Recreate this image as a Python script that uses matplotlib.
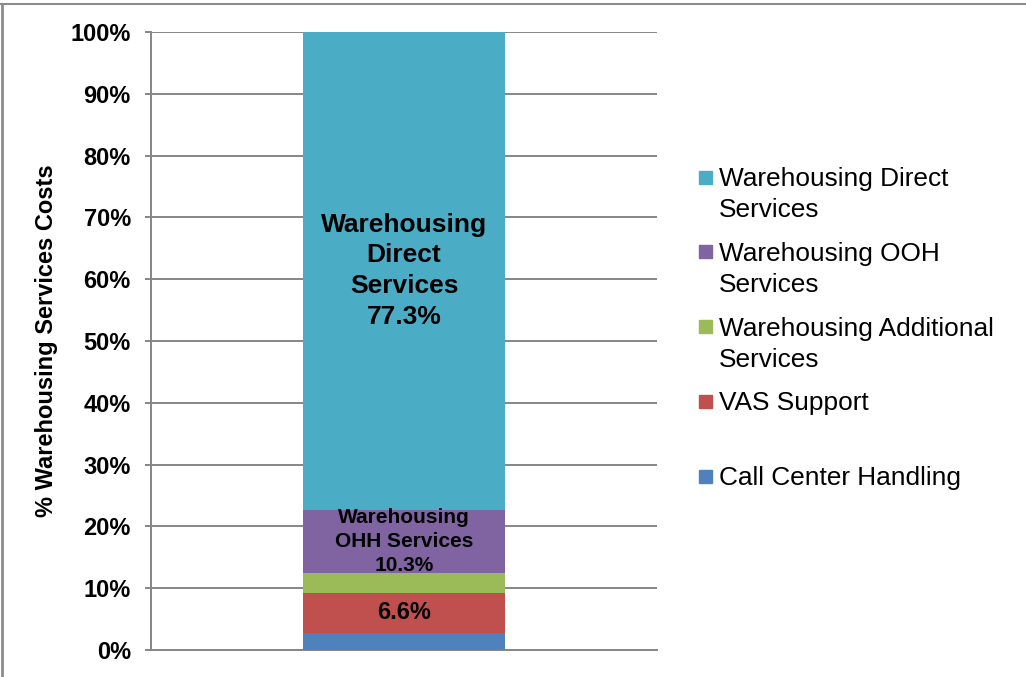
import matplotlib
matplotlib.use("Agg")
import matplotlib.pyplot as plt
from matplotlib.patches import Rectangle
from matplotlib.lines import Line2D
from matplotlib.ticker import FuncFormatter

plt.rcParams['font.family'] = ['Liberation Sans', 'DejaVu Sans']

# ---- data (bottom to top) ----
series = ["Call Center Handling", "VAS Support", "Warehousing Additional Services",
          "Warehousing OOH Services", "Warehousing Direct Services"]
legend_labels = ["Call Center Handling", "VAS Support", "Warehousing Additional\nServices",
                 "Warehousing OOH\nServices", "Warehousing Direct\nServices"]
values = [2.7, 6.6, 3.1, 10.3, 77.3]
colors = ["#4F81BD", "#C0504D", "#9BBB59", "#8064A2", "#4BACC6"]
seg_labels = ["", "6.6%", "", "Warehousing\nOHH Services\n10.3%", "Warehousing\nDirect\nServices\n77.3%"]
seg_label_sizes = [0, 17, 0, 15, 19]
seg_label_spacing = [1.0, 1.0, 1.0, 1.32, 1.36]
yticks = [0, 10, 20, 30, 40, 50, 60, 70, 80, 90, 100]

W, H = 1026, 677
fig = plt.figure(figsize=(W / 100, H / 100), dpi=100)
ax = fig.add_axes([151 / W, 1 - 650 / H, 506 / W, 618 / H])

grid_c = "#868686"
bottom = 0
for v, c, lab, fs, ls in zip(values, colors, seg_labels, seg_label_sizes, seg_label_spacing):
    ax.bar(0, v, width=0.4, bottom=bottom, color=c, zorder=3)
    if lab:
        ax.text(0, bottom + v / 2, lab, ha='center', va='center', fontsize=fs,
                fontweight='bold', color='black', zorder=4, linespacing=ls)
    bottom += v

ax.set_xlim(-0.5, 0.5)
ax.set_ylim(0, 100)
ax.set_yticks(yticks)
ax.yaxis.set_major_formatter(FuncFormatter(lambda v, p: f"{int(v)}%"))
ax.set_xticks([])
ax.grid(axis='y', color=grid_c, linewidth=1.4, zorder=0)
for s in ['top', 'right']:
    ax.spines[s].set_visible(False)
for s in ['left', 'bottom']:
    ax.spines[s].set_color(grid_c)
    ax.spines[s].set_linewidth(1.4)
ax.tick_params(axis='y', length=4.5, width=1.4, color=grid_c, pad=10,
               labelsize=17)
for t in ax.get_yticklabels():
    t.set_fontweight('bold')
ax.set_ylabel("% Warehousing Services Costs", fontsize=17, fontweight='bold', va='center')
ax.yaxis.set_label_coords((47 - 151) / 506, 0.5)

# ---- legend (top to bottom) ----
first_y = 177
step = 74.8
for i, idx in enumerate(range(len(series) - 1, -1, -1)):
    yc = first_y + i * step
    fig.patches.append(Rectangle((699 / W, 1 - (yc + 6.5) / H), 13 / W, 13 / H,
                                 transform=fig.transFigure, color=colors[idx]))
    fig.text(719 / W, 1 - (yc - 10) / H, legend_labels[idx], ha='left', va='top',
             fontsize=18.9, linespacing=1.37)

# figure border (left and top)
fig.add_artist(Line2D([1.5 / W, 1.5 / W], [0, 1 - 3.5 / H], transform=fig.transFigure,
                      color="#8c8c8c", linewidth=2))
fig.add_artist(Line2D([0, 1], [1 - 3.5 / H, 1 - 3.5 / H], transform=fig.transFigure,
                      color="#8c8c8c", linewidth=1.5))

fig.savefig("out.png", dpi=100)
